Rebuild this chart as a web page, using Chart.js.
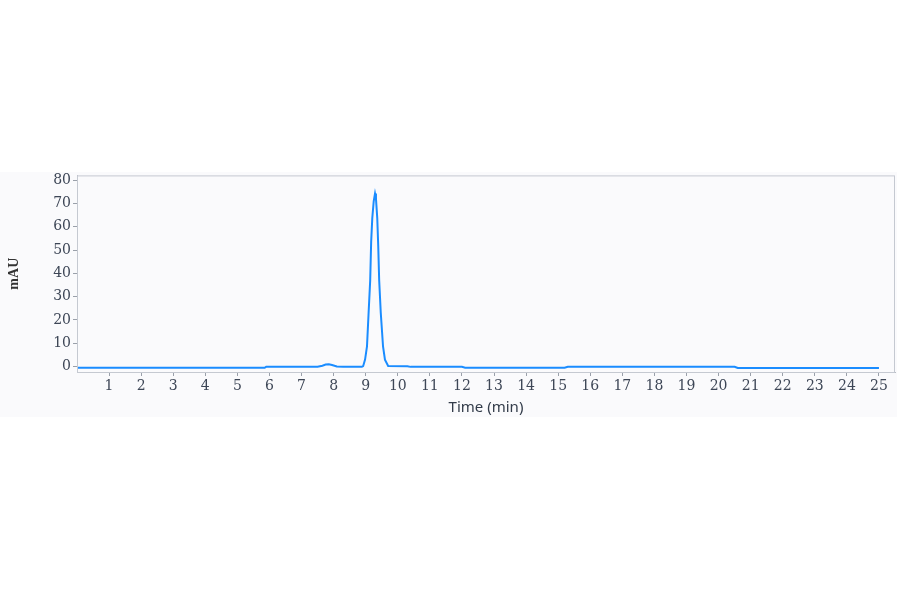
<!DOCTYPE html>
<html lang="en">
<head>
    <script src="https://cdn.jsdelivr.net/npm/chart.js"></script>
    <meta charset="UTF-8">
    <title>Chromatogram</title>
    <style>
        body { margin: 0; background: #ffffff; }
        #bg { position: absolute; left: 0; top: 172px; width: 897px; height: 245px; background: #fafafc; }
        #myChart { position: absolute; left: 0; top: 165px; }
    </style>
</head>
<body>
    <div id="bg"></div>
    <canvas id="myChart" width="897" height="252"></canvas>
    <script>
        // retention time (min) and absorbance (mAU)
        const timeList = [0, 5.85, 5.9, 7.5, 7.65, 7.75, 7.85, 7.95, 8.1, 8.3, 8.88, 8.92, 8.98, 9.04, 9.09, 9.14, 9.17, 9.205, 9.25, 9.29,
            9.32, 9.36, 9.39, 9.42, 9.47, 9.54, 9.6, 9.7, 10.3, 10.4, 12.0, 12.1, 15.2, 15.3, 20.5, 20.6, 25.0];
        const mauList = [-0.5, -0.5, 0.0, 0.0, 0.4, 0.9, 1.0, 0.7, 0.1, -0.1, -0.1, 0.2, 3, 8.7, 23, 37, 53.5, 63.7, 71, 74.2,
            72, 63.7, 52, 37, 23, 8.7, 3, 0.3, 0.2, -0.1, -0.1, -0.5, -0.5, -0.1, -0.1, -0.6, -0.6];
        const xTicks = [1, 2, 3, 4, 5, 6, 7, 8, 9, 10, 11, 12, 13, 14, 15, 16, 17, 18, 19, 20, 21, 22, 23, 24, 25];
        const yTicks = [0, 10, 20, 30, 40, 50, 60, 70, 80];

        const points = timeList.map((t, i) => ({ x: t, y: mauList[i] }));

        const frame = {
            id: 'frame',
            afterDraw(chart) {
                const a = chart.chartArea;
                const c = chart.ctx;
                c.save();
                c.strokeStyle = '#c5c9d1';
                c.lineWidth = 1;
                c.strokeRect(a.left + 0.5, a.top + 0.5, a.right - a.left - 1, a.bottom - a.top);
                c.restore();
            }
        };

        new Chart(document.getElementById('myChart'), {
            type: 'line',
            data: {
                datasets: [{
                    data: points,
                    borderColor: '#1a8cff',
                    borderWidth: 2,
                    pointRadius: 0,
                    tension: 0
                }]
            },
            plugins: [frame],
            options: {
                responsive: false,
                animation: false,
                layout: { padding: { top: 3, right: 2, left: 0, bottom: 0 } },
                plugins: { legend: { display: false }, tooltip: { enabled: false } },
                scales: {
                    x: {
                        type: 'linear',
                        min: 0,
                        max: 25.5,
                        afterBuildTicks: s => { s.ticks = xTicks.map(v => ({ value: v })); },
                        afterFit: s => { s.height = 45; },
                        grid: { drawOnChartArea: false, color: '#9aa0aa', tickLength: 4 },
                        border: { color: '#b8bcc4' },
                        ticks: {
                            autoSkip: false, maxRotation: 0, padding: 2,
                            color: '#3d4656',
                            font: { family: 'DejaVu Serif', size: 14 }
                        },
                        title: {
                            display: true, text: 'Time (min)', color: '#333c4a',
                            font: { family: 'Noto Sans', size: 15 },
                            padding: { top: 0, bottom: 0 }
                        }
                    },
                    y: {
                        min: -2.3,
                        max: 82,
                        afterBuildTicks: s => { s.ticks = yTicks.map(v => ({ value: v })); },
                        afterFit: s => { s.width = 77; },
                        grid: { drawOnChartArea: false, color: '#9aa0aa', tickLength: 4 },
                        border: { color: '#b8bcc4' },
                        ticks: {
                            padding: 2,
                            color: '#3d4656',
                            font: { family: 'DejaVu Serif', size: 14 }
                        },
                        title: {
                            display: true, text: 'mAU', color: '#333333',
                            font: { family: 'Liberation Serif', size: 14, weight: 'bold' },
                            padding: { top: 6, bottom: 0 }
                        }
                    }
                }
            }
        });
    </script>
</body>
</html>
